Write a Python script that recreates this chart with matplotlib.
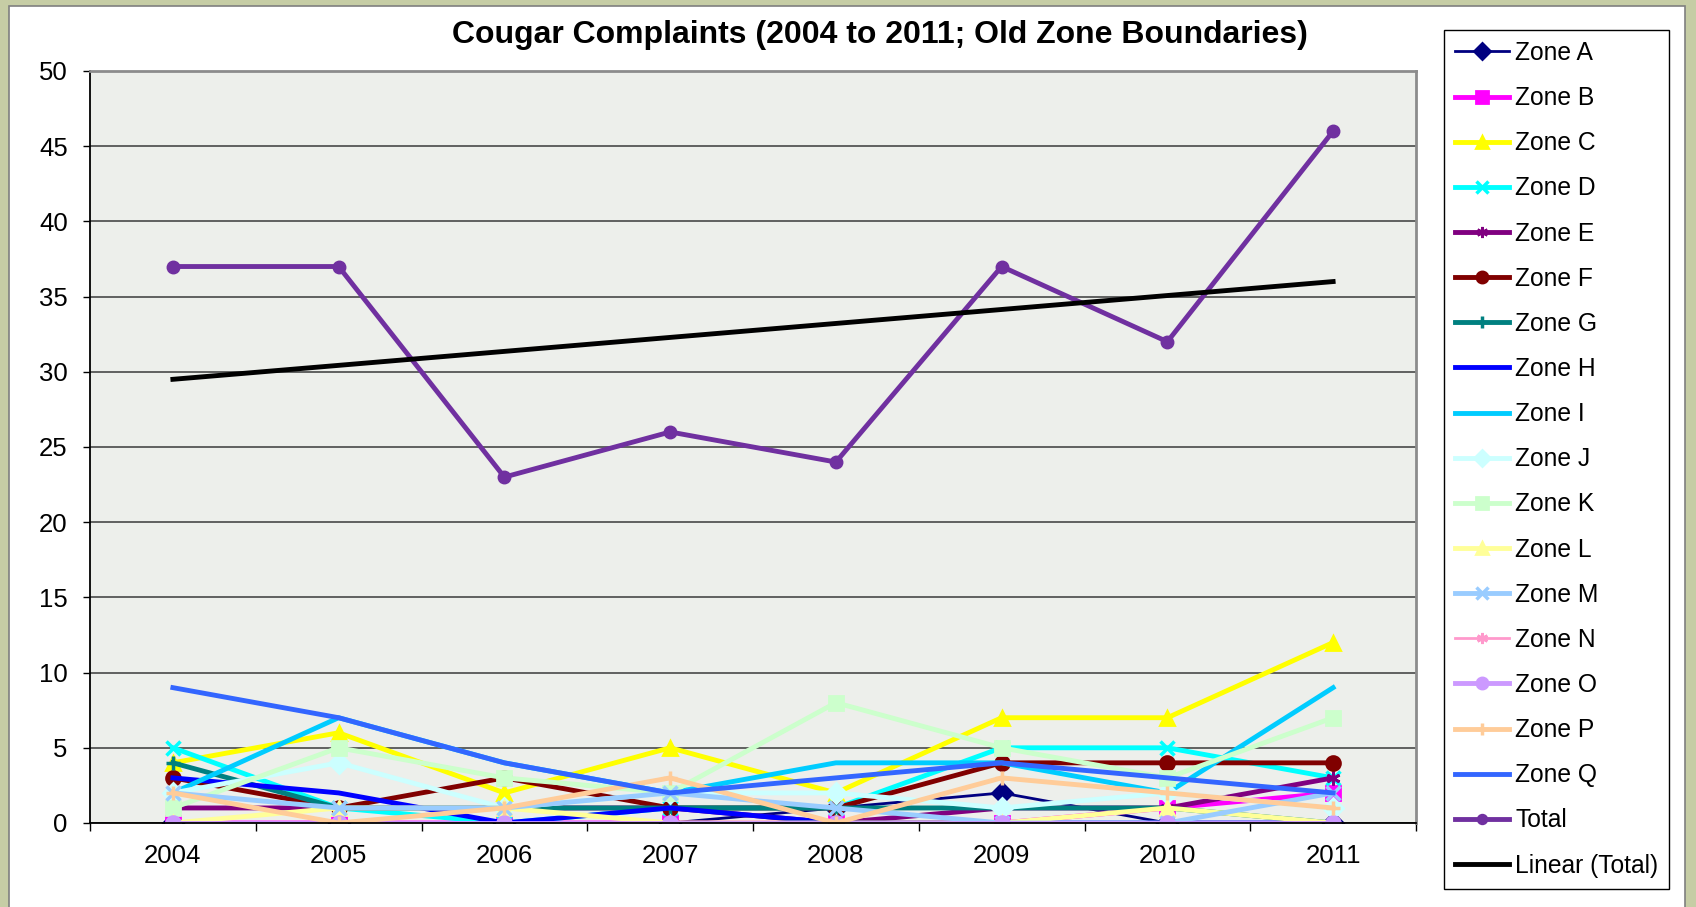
import numpy as np
import matplotlib.pyplot as plt
import matplotlib.patches as patches
from matplotlib.ticker import FixedLocator, MultipleLocator

plt.rcParams['font.family'] = ['Liberation Sans', 'DejaVu Sans']

# data
years = ['2004', '2005', '2006', '2007', '2008', '2009', '2010', '2011']
zone_a = [0, 0, 0, 0, 1, 2, 0, 0]
zone_b = [0, 0, 0, 0, 0, 0, 1, 2]
zone_c = [4, 6, 2, 5, 2, 7, 7, 12]
zone_d = [5, 1, 0, 1, 1, 5, 5, 3]
zone_e = [1, 1, 1, 1, 0, 1, 1, 3]
zone_f = [3, 1, 3, 1, 1, 4, 4, 4]
zone_g = [4, 1, 1, 1, 1, 1, 1, 0]
zone_h = [3, 2, 0, 1, 0, 0, 0, 0]
zone_i = [2, 7, 4, 2, 4, 4, 2, 9]
zone_j = [2, 4, 1, 2, 2, 1, 2, 1]
zone_k = [1, 5, 3, 2, 8, 5, 3, 7]
zone_l = [0, 1, 1, 0, 0, 0, 1, 0]
zone_m = [2, 1, 1, 2, 1, 0, 0, 2]
zone_n = [0, 0, 0, 0, 0, 0, 0, 0]
zone_o = [0, 0, 0, 0, 0, 0, 0, 0]
zone_p = [2, 0, 1, 3, 0, 3, 2, 1]
zone_q = [9, 7, 4, 2, 3, 4, 3, 2]
total = [37, 37, 23, 26, 24, 37, 32, 46]

zone_names = ['Zone A', 'Zone B', 'Zone C', 'Zone D', 'Zone E', 'Zone F', 'Zone G', 'Zone H', 'Zone I',
              'Zone J', 'Zone K', 'Zone L', 'Zone M', 'Zone N', 'Zone O', 'Zone P', 'Zone Q']
zone_values = [zone_a, zone_b, zone_c, zone_d, zone_e, zone_f, zone_g, zone_h, zone_i,
               zone_j, zone_k, zone_l, zone_m, zone_n, zone_o, zone_p, zone_q]

# excel 2003 style colours and markers
zone_colors = ['#000080', '#FF00FF', '#FFFF00', '#00FFFF', '#800080', '#800000', '#008080', '#0000FF', '#00CCFF',
               '#CCFFFF', '#CCFFCC', '#FFFF99', '#99CCFF', '#FF99CC', '#CC99FF', '#FFCC99', '#3366FF']
zone_markers = ['D', 's', '^', 'x', (6, 2, 0), 'o', '+', None, None,
                'D', 's', '^', 'x', (6, 2, 0), 'o', '+', None]
zone_widths = [2.0, 3.5, 3.5, 3.5, 3.5, 3.5, 3.5, 3.5, 3.5,
               3.5, 3.5, 3.5, 3.5, 2.0, 3.5, 3.5, 3.5]

W, H = 1696, 907
fig = plt.figure(figsize=(W / 100, H / 100), dpi=100)
fig.patch.set_facecolor('#c6cda5')

# white chart area sitting on the textured background
frame = patches.Rectangle((9 / W, -0.02), (1685 - 9) / W, 1 - 6 / H + 0.02, transform=fig.transFigure,
                          fc='white', ec='#7f7f7f', lw=1.2, zorder=-1)
fig.patches.append(frame)

ax = fig.add_axes([90 / W, 1 - 823 / H, (1416 - 90) / W, (823 - 71) / H])
ax.set_facecolor('#EDEFEB')

handles = []
for name, vals, col, mk, lw in zip(zone_names, zone_values, zone_colors, zone_markers, zone_widths):
    mew = 2.5 if mk in ('x', '+') else 2.0
    ln, = ax.plot(years, vals, color=col, lw=lw, marker=mk, markersize=10, markeredgewidth=mew,
                  markeredgecolor=col, markerfacecolor=col, label=name)
    handles.append(ln)

ln_total, = ax.plot(years, total, color='#7030A0', lw=3.5, marker='o', markersize=9, label='Total')
handles.append(ln_total)

# linear trend of the total
xs = np.arange(len(years))
slope, icpt = np.polyfit(xs, total, 1)
ln_trend, = ax.plot(years, slope * xs + icpt, color='black', lw=3.5, label='Linear (Total)')
handles.append(ln_trend)

ax.set_xlim(-0.5, 7.5)
ax.set_ylim(0, 50)
ax.yaxis.set_major_locator(MultipleLocator(5))
ax.grid(axis='y', color='#3a3a3a', lw=1.1)
ax.set_axisbelow(True)

ax.xaxis.set_minor_locator(FixedLocator(np.arange(-0.5, 8, 1)))
ax.tick_params(axis='x', which='major', length=0, pad=15, labelsize=18.5)
ax.tick_params(axis='x', which='minor', length=6, width=1, color='black')
ax.tick_params(axis='y', length=5, width=1, color='black', pad=11, labelsize=18.5)

for side in ['left', 'bottom']:
    ax.spines[side].set_color('black')
    ax.spines[side].set_linewidth(1.3)
for side in ['top', 'right']:
    ax.spines[side].set_color('#8c8c8c')
    ax.spines[side].set_linewidth(2)

fig.text(880 / W, 1 - 35 / H, 'Cougar Complaints (2004 to 2011; Old Zone Boundaries)',
         ha='center', va='center', fontsize=23, weight='bold')

leg = fig.legend(handles, [h.get_label() for h in handles], loc='upper left',
                 bbox_to_anchor=(1444 / W, 1 - 30 / H), bbox_transform=fig.transFigure,
                 fontsize=17.7, labelspacing=0.86, handlelength=2.2, handletextpad=0.25,
                 borderpad=0.45, borderaxespad=0, numpoints=1, fancybox=False,
                 edgecolor='black', framealpha=1, markerscale=0.8)
leg.get_frame().set_linewidth(1.0)

fig.savefig('out.png', dpi=100)
plt.close()
